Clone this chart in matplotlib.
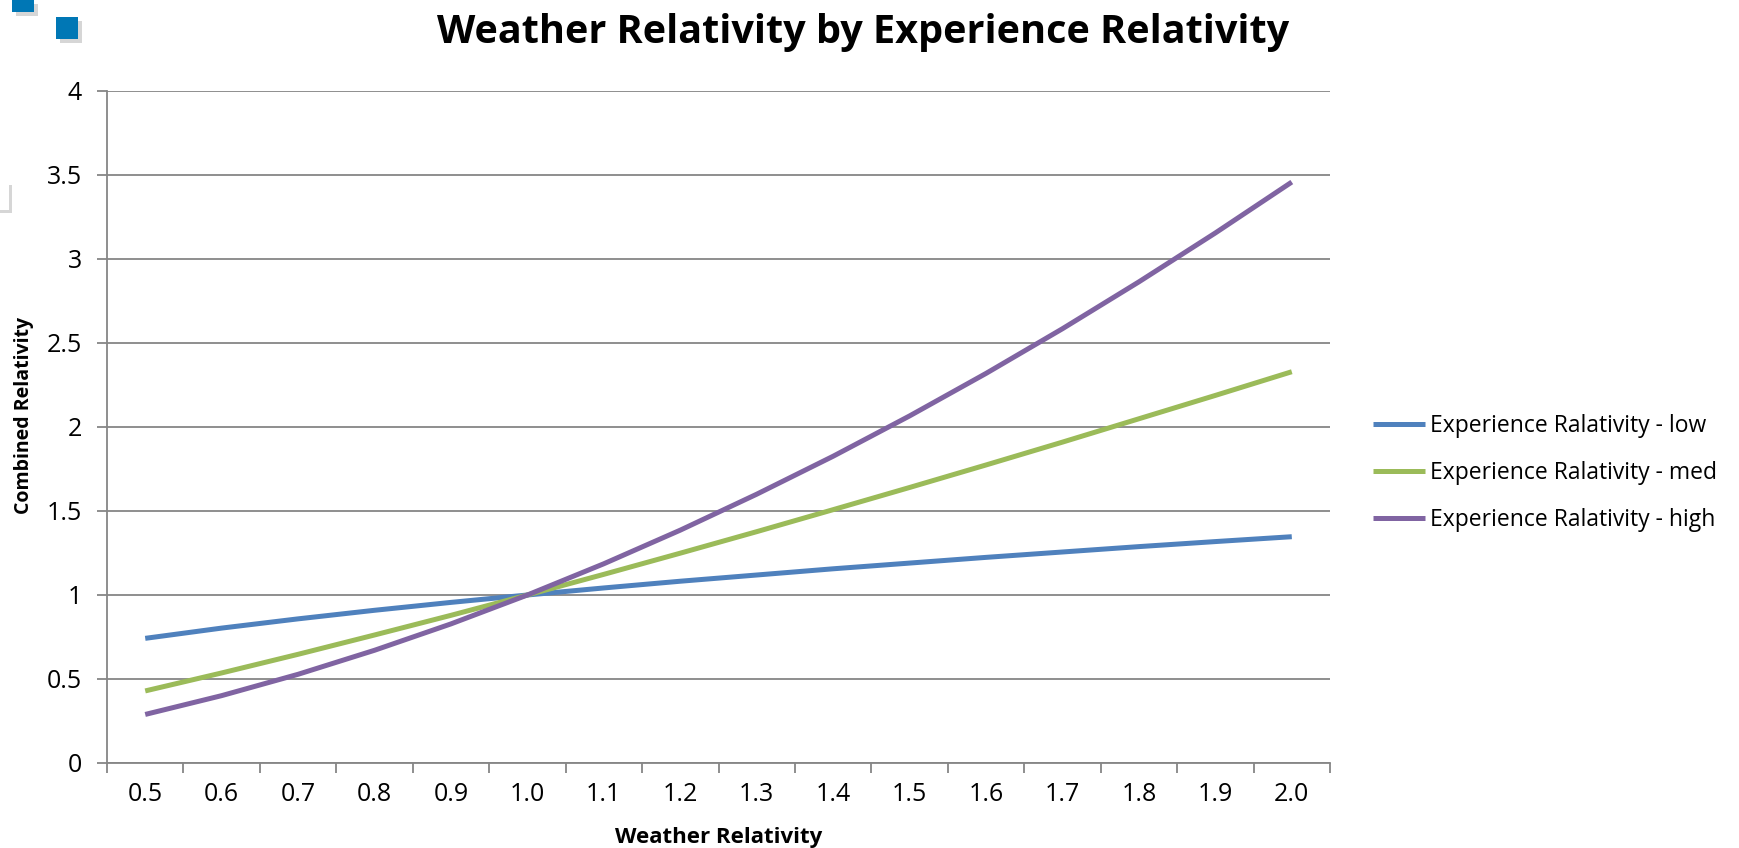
import matplotlib
matplotlib.use("Agg")
import matplotlib.pyplot as plt
from matplotlib.patches import Rectangle

plt.rcParams["font.family"] = ["Open Sans", "DejaVu Sans"]

# 数据
weather = ["0.5", "0.6", "0.7", "0.8", "0.9", "1.0", "1.1", "1.2",
           "1.3", "1.4", "1.5", "1.6", "1.7", "1.8", "1.9", "2.0"]
exp_low = [0.742, 0.803, 0.858, 0.909, 0.956, 1.000, 1.042, 1.082,
           1.119, 1.156, 1.190, 1.224, 1.256, 1.288, 1.318, 1.347]
exp_med = [0.429, 0.536, 0.647, 0.762, 0.879, 1.000, 1.123, 1.249,
           1.377, 1.508, 1.640, 1.774, 1.910, 2.049, 2.188, 2.329]
exp_high = [0.289, 0.401, 0.528, 0.671, 0.828, 1.000, 1.186, 1.386,
            1.600, 1.826, 2.066, 2.319, 2.585, 2.864, 3.155, 3.458]
series = [
    ("Experience Ralativity - low", exp_low, "#4F81BD"),
    ("Experience Ralativity - med", exp_med, "#9BBB59"),
    ("Experience Ralativity - high", exp_high, "#8064A2"),
]
y_ticks = [0, 0.5, 1, 1.5, 2, 2.5, 3, 3.5, 4]
y_labels = ["0", "0.5", "1", "1.5", "2", "2.5", "3", "3.5", "4"]

W, H = 1739, 848
fig = plt.figure(figsize=(W / 100, H / 100), dpi=100)
ax = fig.add_axes([107 / W, (H - 763) / H, (1330 - 107) / W, (763 - 91) / H])

grid_c = "#868686"
x = list(range(len(weather)))
for name, vals, col in series:
    ax.plot(x, vals, color=col, lw=3.6, solid_capstyle="butt", label=name, zorder=3)

ax.set_xlim(-0.5, len(weather) - 0.5)
ax.set_ylim(0, 4)
ax.set_yticks(y_ticks)
ax.set_yticklabels(y_labels)
ax.yaxis.grid(True, color=grid_c, lw=1.3)
ax.set_axisbelow(True)

# 类别轴：刻度在类别边界，标签在中间
ax.set_xticks([i - 0.5 for i in range(len(weather) + 1)])
ax.set_xticklabels([])
ax.set_xticks(x, minor=True)
ax.set_xticklabels(weather, minor=True)
ax.tick_params(axis="x", which="major", direction="out", length=7, width=1.3, color=grid_c)
ax.tick_params(axis="x", which="minor", length=0, pad=14, labelsize=18)
ax.tick_params(axis="y", direction="out", length=7, width=1.3, color=grid_c, pad=11, labelsize=18)

for s in ["top", "right"]:
    ax.spines[s].set_visible(False)
for s in ["left", "bottom"]:
    ax.spines[s].set_color(grid_c)
    ax.spines[s].set_linewidth(1.3)

ax.set_ylabel("Combined Relativity", fontsize=14, fontweight="bold", va="center")
ax.yaxis.set_label_coords(24 / W, 1 - 415 / H, transform=fig.transFigure)
ax.set_xlabel("Weather Relativity", fontsize=16, fontweight="bold", va="center")
ax.xaxis.set_label_coords(719 / W, 1 - 837 / H, transform=fig.transFigure)
fig.text(863 / W, 1 - 33 / H, "Weather Relativity by Experience Relativity",
         ha="center", va="center", fontsize=28.5, fontweight="bold")

ax.legend(loc="center left", bbox_to_anchor=(1352 / W, 1 - 473 / H),
          bbox_transform=fig.transFigure, frameon=False, fontsize=16.5,
          handlelength=2.3, handletextpad=0.2, labelspacing=1.0)

# 左上角装饰方块
def px_rect(x0, y0, w, h, **kw):
    fig.patches.append(Rectangle((x0 / W, 1 - (y0 + h) / H), w / W, h / H,
                                 transform=fig.transFigure, figure=fig, **kw))

for x0, y0, w, h in [(12, 0, 22, 12), (56, 17, 22, 22)]:
    px_rect(x0 + 4, y0 + 4, w, h, color="#bbbbbb", alpha=0.6, lw=0)
    px_rect(x0, y0, w, h, color="#0077B5", lw=0)
px_rect(0, 185, 12, 28, color="#bbbbbb", alpha=0.6, lw=0)
px_rect(0, 182, 9, 28, color="white", lw=0)

fig.savefig("out.png", dpi=100)
